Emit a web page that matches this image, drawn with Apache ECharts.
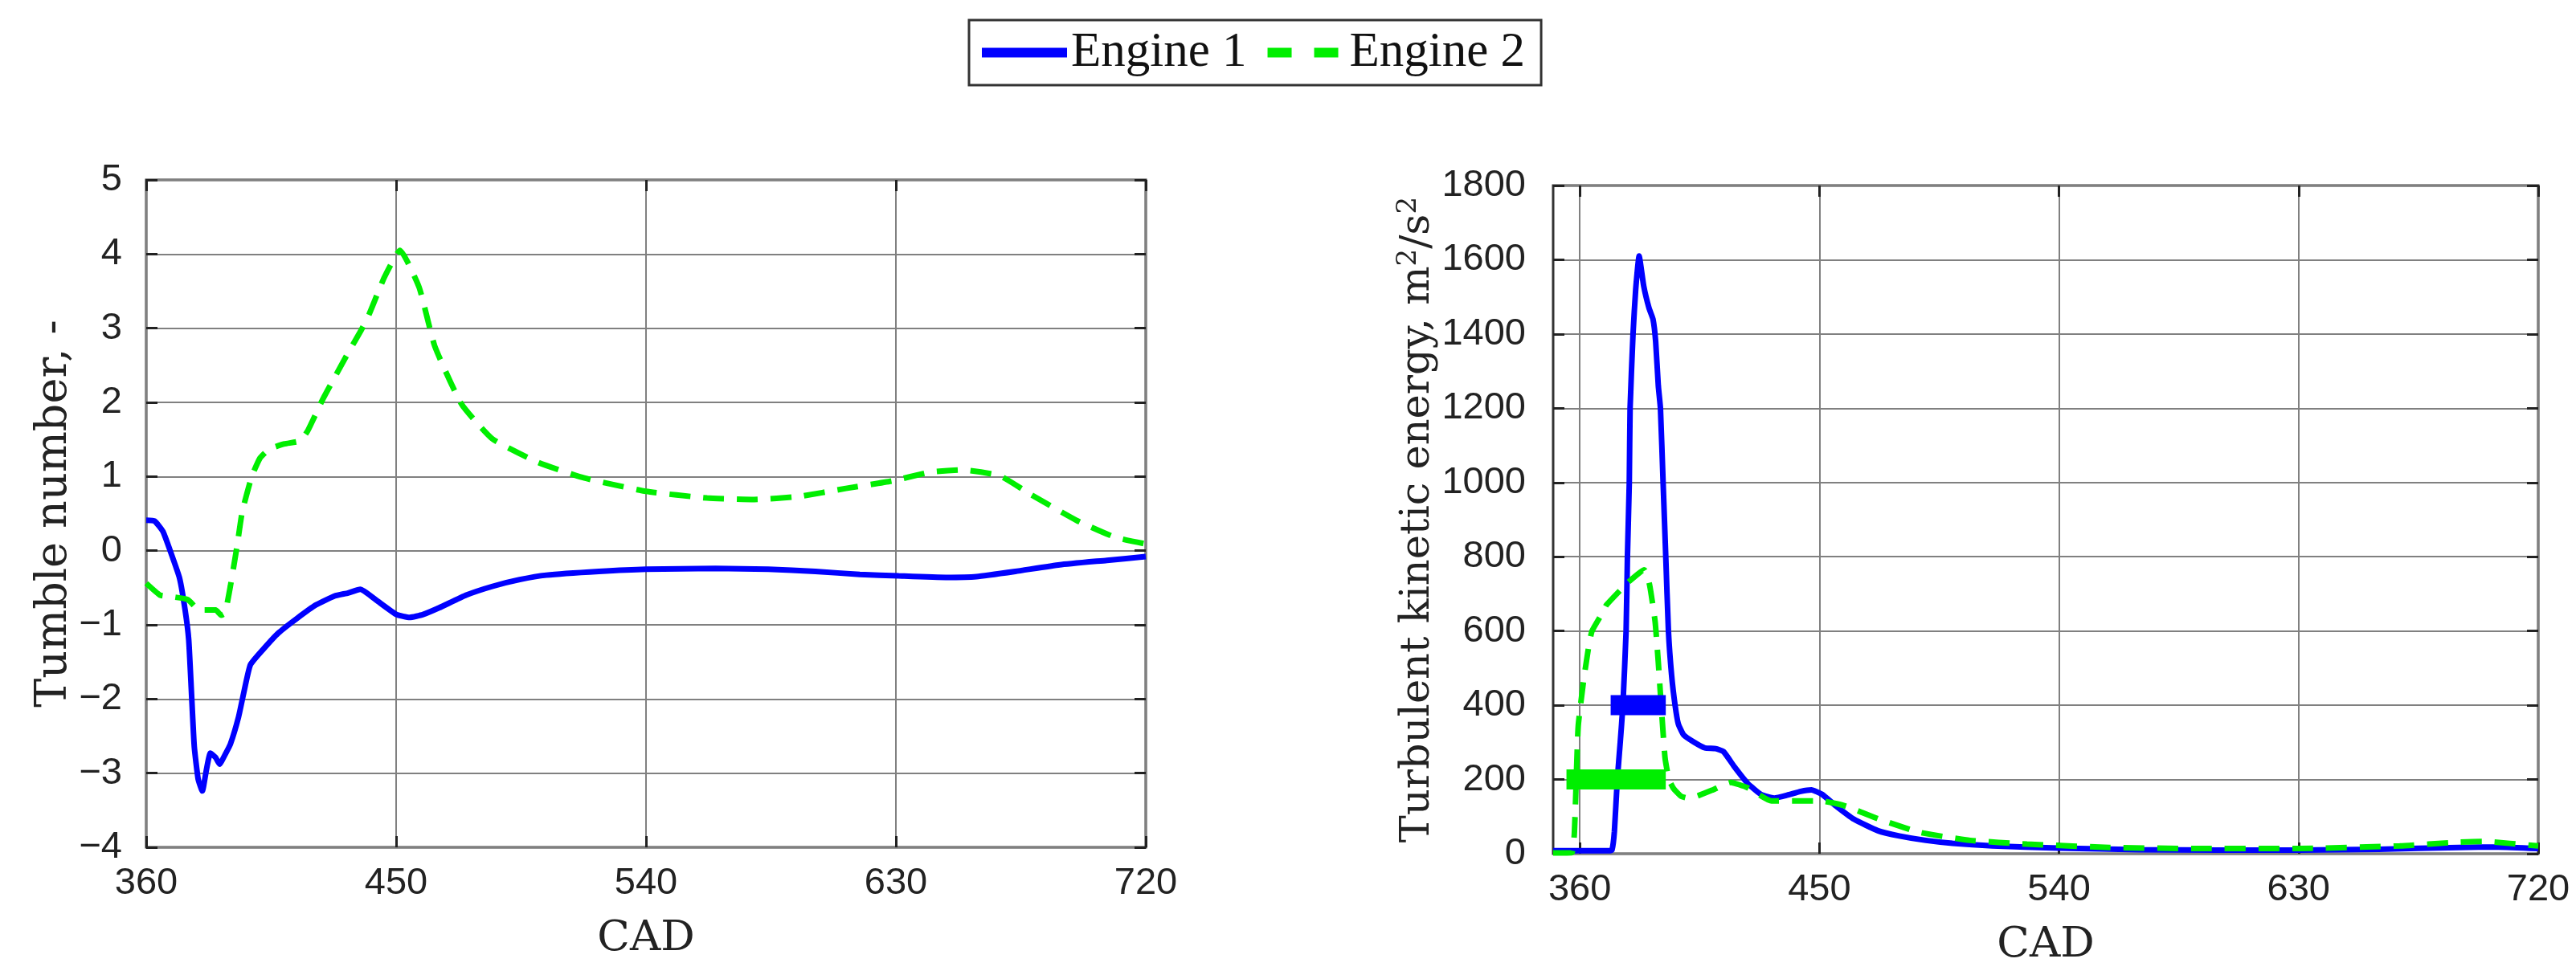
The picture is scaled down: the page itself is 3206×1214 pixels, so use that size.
<!DOCTYPE html>
<html><head><meta charset="utf-8">
<script src="https://cdn.jsdelivr.net/npm/echarts@6/dist/echarts.min.js"></script>
<style>html,body{margin:0;padding:0;background:#fff}#c{width:3206px;height:1214px}</style>
</head><body><div id="c"></div>
<script>
const cadTicks = [360, 450, 540, 630, 720];
const seriesNames = ['Engine 1', 'Engine 2'];

const tumbleE1X = [360,363,366,369,372,374,375.3,376.3,377.3,378.7,380.2,381.6,383.1,385,386.4,388.4,390.3,393.2,395.1,397.5,401.9,407.6,414.4,421.2,427.9,432.7,437.1,443.3,450.1,454.9,459.7,465.5,475.2,484.8,494.5,504.1,523,540,565,584,601,617,631,648,659,673,689,706,720];
const tumbleE1Y = [0.41,0.40,0.26,-0.04,-0.37,-0.80,-1.20,-1.92,-2.64,-3.08,-3.24,-2.97,-2.73,-2.79,-2.88,-2.75,-2.61,-2.25,-1.92,-1.54,-1.34,-1.11,-0.91,-0.73,-0.61,-0.57,-0.52,-0.68,-0.86,-0.90,-0.86,-0.77,-0.60,-0.48,-0.39,-0.33,-0.28,-0.25,-0.24,-0.25,-0.28,-0.32,-0.34,-0.36,-0.35,-0.28,-0.19,-0.13,-0.08];

const tumbleE2X = [360,365,369,375,379,385,387,388.4,390.3,392.7,394.6,398,401,404.3,409.8,415.4,418.2,423.7,432,437.5,440.3,445.8,451.4,458.3,463.9,473.5,484.6,501.2,517.8,540,562,579,595,612,628.6,642.5,653.5,667.4,678.5,695,709,720];
const tumbleE2Y = [-0.44,-0.60,-0.62,-0.66,-0.80,-0.80,-0.87,-0.84,-0.48,0.06,0.53,1.0,1.25,1.37,1.44,1.48,1.62,2.05,2.62,2.98,3.19,3.69,4.05,3.55,2.76,1.98,1.51,1.19,0.98,0.80,0.71,0.69,0.73,0.84,0.94,1.06,1.09,1.01,0.76,0.41,0.18,0.09];

const tkeE1X = [350,360,371,372.1,373,374.1,375.2,376.2,377.4,377.9,378.6,378.9,380,381,382.3,384,386,387.5,388.5,389.5,390.3,391.3,392.3,393.3,394.5,395.8,397,399,403,407,411,414,418,423,428,433,438,443,447,451,456,463,472,480,490,500,515,540,570,600,630,660,690,705,720];
const tkeE1Y = [8,8,8,10,60,200,300,400,600,800,1000,1200,1400,1520,1610,1530,1470,1440,1380,1260,1200,1000,800,600,480,400,350,320,300,285,283,275,235,190,160,150,158,168,172,160,130,93,62,48,36,28,21,15,11,10,10,12,17,18,14];

const tkeE2X = [350,357,358,359.4,361.5,363.4,364.6,368.6,370,378,384.2,386.2,388.3,389.5,390.3,392,393.5,395.3,398,400.5,404,410,416.7,423,432,441.5,450.8,460,472.5,488,506.6,528,559,590,630,668,689.5,699,720];
const tkeE2Y = [2,3,60,342,470,560,600,650,670,730,765,725,625,515,430,260,200,175,155,150,155,172,192,178,142,142,142,128,93,57,36,26,17,14,14,21,31,33,21];

const e1BarX = [371.6, 392.3];
const e1BarY = [400, 400];
const e2BarX = [355, 392.3];
const e2BarY = [200, 200];

const zip = (xs, ys) => xs.map((x, i) => [x, ys[i]]);
const BLUE = '#0000ff', GREEN = '#00ee00';
const SANS = 'Liberation Sans', SERIF = 'DejaVu Serif', LSERIF = 'Liberation Serif';
const minusFmt = v => (v < 0 ? '\u2212' + Math.abs(v) : String(v));

function xAxisBase(gridIndex, min, max, custom, pos) {
  const main = pos === 'bottom';
  const a = {
    type: 'value', gridIndex, min, max, position: pos,
    axisLine: { show: false, onZero: false },
    axisTick: { show: true, inside: true, length: 14, lineStyle: { color: '#222', width: 3 } },
    axisLabel: { show: main, fontFamily: SANS, fontSize: 47, color: '#222', margin: 22 },
    splitLine: { show: main, lineStyle: { color: '#808080', width: 2 } },
  };
  if (custom) {
    a.axisTick.customValues = cadTicks;
    a.axisLabel.customValues = cadTicks;
  } else {
    a.interval = 90;
  }
  if (main) {
    a.name = 'CAD';
    a.nameLocation = 'middle';
    a.nameGap = 88;
    a.nameTextStyle = { fontFamily: SERIF, fontSize: 53, color: '#222' };
  }
  return a;
}
function yAxisBase(gridIndex, min, max, interval, pos, labelMargin) {
  const main = pos === 'left';
  return {
    type: 'value', gridIndex, min, max, interval, position: pos,
    axisLine: { show: false, onZero: false },
    axisTick: { show: true, inside: true, length: 14, lineStyle: { color: '#222', width: 3 } },
    axisLabel: { show: main, fontFamily: SANS, fontSize: 47, color: '#222', margin: labelMargin, formatter: minusFmt },
    splitLine: { show: main, lineStyle: { color: '#808080', width: 2 } },
  };
}

const xAxes = [
  xAxisBase(0, 360, 720, false, 'bottom'),
  xAxisBase(0, 360, 720, false, 'top'),
  xAxisBase(1, 350, 720, true, 'bottom'),
  xAxisBase(1, 350, 720, true, 'top'),
];
const yAxes = [
  Object.assign(yAxisBase(0, -4, 5, 1, 'left', 30), {
    name: 'Tumble number, -', nameLocation: 'middle', nameGap: 84,
    nameTextStyle: { fontFamily: SERIF, fontSize: 54, color: '#222' }
  }),
  yAxisBase(0, -4, 5, 1, 'right', 30),
  Object.assign(yAxisBase(1, 0, 1800, 200, 'left', 34), {
    name: 'Turbulent kinetic energy, m{sup|2}/s{sup|2}', nameLocation: 'middle', nameGap: 134,
    nameTextStyle: { fontFamily: SERIF, fontSize: 51, color: '#222',
      rich: { sup: { fontFamily: SERIF, fontSize: 34, color: '#222', verticalAlign: 'top', lineHeight: 58 } } }
  }),
  yAxisBase(1, 0, 1800, 200, 'right', 34),
];

function lineSeries(name, data, xi, yi, color, dashed) {
  return {
    name, type: 'line', xAxisIndex: xi, yAxisIndex: yi, data,
    showSymbol: false, symbol: 'none', smooth: 0.15, animation: false,
    lineStyle: { color, width: 7, type: dashed ? [26, 16] : 'solid', cap: 'butt' },
    itemStyle: { color }, z: dashed ? 3 : 2
  };
}
function barSeries(name, data, xi, yi, color) {
  return {
    name, type: 'line', xAxisIndex: xi, yAxisIndex: yi, data,
    showSymbol: false, symbol: 'none', animation: false,
    lineStyle: { color, width: 25, cap: 'butt' }, itemStyle: { color }, z: 5
  };
}

const option = {
  backgroundColor: '#fff',
  animation: false,
  legend: {
    data: [
      { name: seriesNames[0], icon: 'path://M0,0H106V12H0Z', itemStyle: { color: BLUE } },
      { name: seriesNames[1], icon: 'path://M0,0H30V12H0Z M58,0H88V12H58Z', itemStyle: { color: GREEN } }
    ],
    left: 1206, top: 25, orient: 'horizontal',
    borderColor: '#333', borderWidth: 3, padding: [10, 20, 10, 16], itemGap: 26,
    itemWidth: 106, itemHeight: 12,
    textStyle: { fontFamily: LSERIF, fontSize: 61, color: '#111' }
  },
  grid: [
    { left: 182, top: 224, width: 1244, height: 831, show: true, borderColor: '#333', borderWidth: 3, backgroundColor: 'transparent' },
    { left: 1933, top: 231, width: 1226, height: 832, show: true, borderColor: '#333', borderWidth: 3, backgroundColor: 'transparent' },
  ],
  xAxis: xAxes,
  yAxis: yAxes,
  series: [
    lineSeries(seriesNames[0], zip(tumbleE1X, tumbleE1Y), 0, 0, BLUE, false),
    lineSeries(seriesNames[1], zip(tumbleE2X, tumbleE2Y), 0, 0, GREEN, true),
    lineSeries(seriesNames[0], zip(tkeE1X, tkeE1Y), 2, 2, BLUE, false),
    lineSeries(seriesNames[1], zip(tkeE2X, tkeE2Y), 2, 2, GREEN, true),
    barSeries('Engine 1 marker', zip(e1BarX, e1BarY), 2, 2, BLUE),
    barSeries('Engine 2 marker', zip(e2BarX, e2BarY), 2, 2, GREEN),
  ]
};
const chart = echarts.init(document.getElementById('c'), null, { renderer: 'canvas' });
chart.setOption(option);
</script>
</body></html>
